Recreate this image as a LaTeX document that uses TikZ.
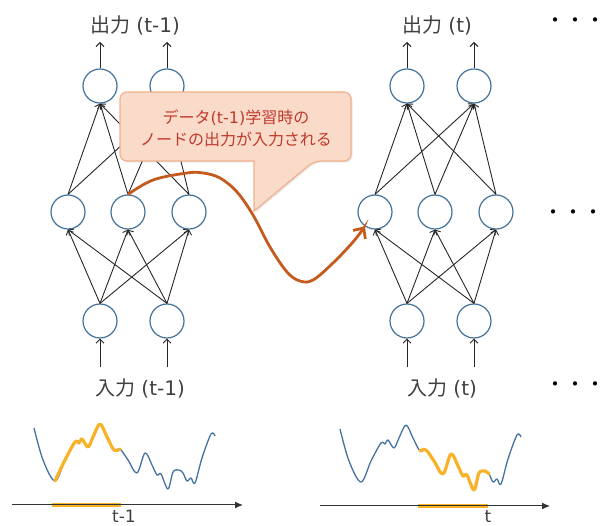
\documentclass[tikz,border=0pt]{standalone}
\usepackage{fontspec}
\setmainfont{DejaVu Sans}
\newfontfamily\jpfont{Noto Sans CJK JP}
\usetikzlibrary{arrows.meta,shadows}

\definecolor{nodeblue}{RGB}{65,113,156}
\definecolor{waveblue}{RGB}{68,114,160}
\definecolor{hiorange}{RGB}{248,178,40}
\definecolor{linkbrown}{RGB}{197,90,30}
\definecolor{notefill}{RGB}{250,219,202}
\definecolor{noteedge}{RGB}{242,176,140}
\definecolor{notetext}{RGB}{192,57,43}
\definecolor{labelgray}{RGB}{64,64,64}

\tikzset{
  unit/.style={circle, draw=nodeblue, line width=1.2pt, minimum size=34pt, inner sep=0pt},
  link/.style={-{Straight Barb[length=4pt,width=8pt]}, line width=0.9pt, black!85},
  iolabel/.style={font=\fontsize{20}{24}\selectfont, text=labelgray, inner sep=0pt},
  tlabel/.style={font=\fontsize{17}{20}\selectfont, text=labelgray, inner sep=0pt},
  dotrow/.style={font=\jpfont\fontsize{20}{24}\selectfont, inner sep=0pt, anchor=east},
  notebox/.style={fill=notefill, draw=noteedge, line width=1.2pt,
    drop shadow={opacity=0.2, shadow xshift=1.5pt, shadow yshift=-1.5pt}},
  notetxt/.style={font=\jpfont\fontsize{16}{22}\selectfont, text=notetext, align=center, inner sep=0pt},
  carry/.style={-{Straight Barb[length=8pt,width=15pt]}, line width=2.8pt, linkbrown},
  wave/.style={waveblue, line width=1.3pt, line join=round},
  wavehi/.style={hiorange, line width=3.2pt, line cap=round, line join=round},
  axis/.style={-{Latex[length=8pt,width=7pt]}, line width=1pt, black!80},
  axishi/.style={hiorange, line width=3.5pt}
}

\newcommand{\wavecurve}{%
  \draw[wave] plot[smooth, tension=0.55] coordinates {(34,428) (43,460) (55,481) (65,460)
    (75,442) (79,443) (82,439) (88,447) (93,437) (100,424) (107,437) (114,450) (120,449)
    (128,460) (137,473) (145,453) (152,465) (157,475) (161,474) (168,489) (173,472)
    (179,470) (183,473) (187,481) (191,478) (195,483) (202,458) (211,434) (215,436)};}

\begin{document}
\begin{tikzpicture}[x=1pt, y=-1pt]
  \useasboundingbox (0,0) rectangle (606,526);

  % Two networks: t-1 and t
  \foreach \net/\dx in {1/0, 2/307} {
    \node[unit] (o\net1) at ({\dx+100},86) {};
    \node[unit] (o\net2) at ({\dx+167},86) {};
    \node[unit] (h\net1) at ({\dx+68},212) {};
    \node[unit] (h\net2) at ({\dx+128},212) {};
    \node[unit] (h\net3) at ({\dx+189},212) {};
    \node[unit] (i\net1) at ({\dx+100},321) {};
    \node[unit] (i\net2) at ({\dx+167},321) {};
    \coordinate (out\net1) at ({\dx+100},42);
    \coordinate (out\net2) at ({\dx+167},42);
    \coordinate (in\net1) at ({\dx+100},367);
    \coordinate (in\net2) at ({\dx+167},367);
    \foreach \a in {1,2} {
      \draw[link] (o\net\a.north) -- (out\net\a);
      \draw[link] (in\net\a) -- (i\net\a.south);
      \foreach \b in {1,2,3} {
        \draw[link] (i\net\a.north) -- (h\net\b.south);
        \draw[link] (h\net\b.north) -- (o\net\a.south);
      }
    }
  }

  % Labels
  \node[iolabel] (outlbl1) at (135,25) {{\jpfont 出力} (t-1)};
  \node[iolabel] (outlbl2) at (437,25) {{\jpfont 出力} (t)};
  \node[iolabel] (inlbl1) at (140,388) {{\jpfont 入力} (t-1)};
  \node[iolabel] (inlbl2) at (442,388) {{\jpfont 入力} (t)};

  % Dots
  \node[dotrow] (dots1) at (606,23) {・・・};
  \node[dotrow] (dots2) at (604,215) {・・・};
  \node[dotrow] (dots3) at (606,387) {・・・};

  % Callout
  \draw[notebox, rounded corners=7pt] (254,161) -- (120,161) -- (120,92) -- (351,92)
    -- (351,161) -- (314,161) [sharp corners] -- (254,211) -- cycle;
  \node[notetxt] (note) at (236,128) {データ{\rmfamily (t-1)}学習時の\\ノードの出力が入力される};

  % Carry-over arrow
  \draw[carry] plot[smooth, tension=0.6] coordinates {(h12.north) (153,180) (187,173)
    (203,173) (220,178) (237,192) (253,215) (270,247) (287,272) (300,281) (313,280)
    (333,263) (353,242) (h21.235)};

  % Waves
  \wavecurve
  \draw[wavehi] plot[smooth, tension=0.55] coordinates {(55,481) (65,460) (75,442) (79,443)
    (82,439) (88,447) (93,437) (100,424) (107,437) (114,450) (120,449)};
  \begin{scope}[shift={(306,1)}]
    \wavecurve
    \draw[wavehi] plot[smooth, tension=0.55] coordinates {(114,450) (120,449) (128,460)
      (137,473) (145,453) (152,465) (157,475) (161,474) (168,489) (173,472) (179,470) (183,473)};
  \end{scope}

  % Time axes
  \coordinate (ax1a) at (12,505);
  \coordinate (ax1b) at (243,505);
  \coordinate (ax2a) at (320,506);
  \coordinate (ax2b) at (550,506);
  \draw[axishi] (52,505) -- (121,505);
  \draw[axishi] (418,506) -- (488,506);
  \draw[axis] (ax1a) -- (ax1b);
  \draw[axis] (ax2a) -- (ax2b);
  \node[tlabel, anchor=north] (tl1) at (124,510) {t-1};
  \node[tlabel, anchor=north] (tl2) at (488,510) {t};
\end{tikzpicture}
\end{document}
